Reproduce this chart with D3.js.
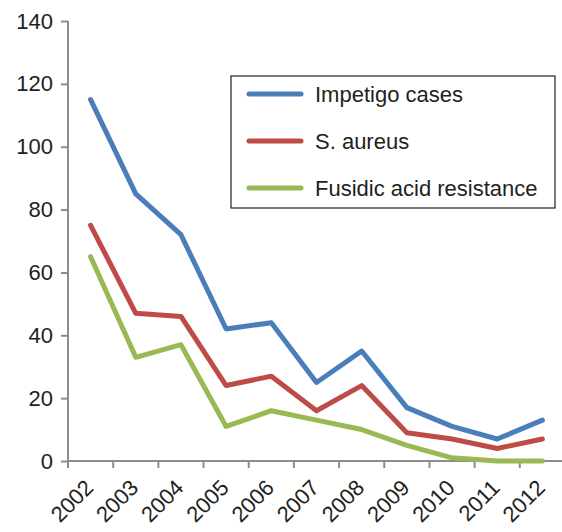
<!DOCTYPE html>
<html>
<head>
<meta charset="utf-8">
<script src="https://cdn.jsdelivr.net/npm/d3@7"></script>
<style>
  body { margin: 0; background: #fff; }
  text { font-family: "Liberation Sans", Arial, sans-serif; fill: #231f20; }
</style>
</head>
<body>
<div id="chart"></div>
<script>
// data
const years = ["2002","2003","2004","2005","2006","2007","2008","2009","2010","2011","2012"];
const impetigo = [115, 85, 72, 42, 44, 25, 35, 17, 11, 7, 13];
const aureus = [75, 47, 46, 24, 27, 16, 24, 9, 7, 4, 7];
const fusidic = [65, 33, 37, 11, 16, 13, 10, 5, 1, 0, 0];
const seriesNames = ["Impetigo cases", "S. aureus", "Fusidic acid resistance"];
const yTicks = [0, 20, 40, 60, 80, 100, 120, 140];

const colors = ["#4a7ebb", "#be4b48", "#98b954"];
const series = [impetigo, aureus, fusidic];

const width = 562, height = 532;
const margin = { top: 21, right: -3, bottom: 71, left: 68 };

const svg = d3.select("#chart").append("svg")
  .attr("width", width)
  .attr("height", height);

const xScale = d3.scaleBand()
  .domain(years)
  .range([margin.left, width - margin.right]);

const yScale = d3.scaleLinear()
  .domain([0, 140])
  .range([height - margin.bottom, margin.top]);

// y axis
const yAxis = svg.append("g")
  .attr("transform", "translate(" + margin.left + ",0)")
  .call(d3.axisLeft(yScale).tickValues(yTicks).tickSize(7).tickPadding(8));
yAxis.selectAll("path, line").attr("stroke", "#8c8c8c").attr("stroke-width", 2);
yAxis.select(".domain").attr("d", "M0," + yScale(140) + "V" + yScale(0));
yAxis.selectAll("text").style("font-size", "22px").attr("fill", "#231f20");

// x axis, ticks sit between categories
const xAxis = svg.append("g")
  .attr("transform", "translate(0," + yScale(0) + ")");
xAxis.append("line")
  .attr("x1", margin.left).attr("x2", width)
  .attr("stroke", "#8c8c8c").attr("stroke-width", 2);
xAxis.selectAll(".tk")
  .data(years)
  .enter().append("line")
  .attr("class", "tk")
  .attr("x1", d => xScale(d)).attr("x2", d => xScale(d))
  .attr("y1", 0).attr("y2", 7)
  .attr("stroke", "#8c8c8c").attr("stroke-width", 2);
xAxis.selectAll(".lbl")
  .data(years)
  .enter().append("text")
  .attr("class", "lbl")
  .attr("text-anchor", "end")
  .style("font-size", "22px")
  .attr("transform", d => "translate(" + (xScale(d) + xScale.bandwidth() / 2 + 4) + ",28) rotate(-45)")
  .text(d => d);

// lines
const line = d3.line()
  .x((d, i) => xScale(years[i]) + xScale.bandwidth() / 2)
  .y(d => yScale(d));

svg.selectAll(".series")
  .data(series)
  .enter().append("path")
  .attr("class", "series")
  .attr("d", line)
  .attr("fill", "none")
  .attr("stroke", (d, i) => colors[i])
  .attr("stroke-width", 5)
  .attr("stroke-linejoin", "round")
  .attr("stroke-linecap", "round");

// legend
const legend = svg.append("g");
legend.append("rect")
  .attr("x", 231).attr("y", 76)
  .attr("width", 324).attr("height", 132)
  .attr("fill", "#fff")
  .attr("stroke", "#231f20").attr("stroke-width", 1.2);

const items = legend.selectAll(".item")
  .data(seriesNames)
  .enter().append("g")
  .attr("class", "item")
  .attr("transform", (d, i) => "translate(0," + (94 + i * 47) + ")");
items.append("line")
  .attr("x1", 249).attr("x2", 301)
  .attr("stroke", (d, i) => colors[i])
  .attr("stroke-width", 5)
  .attr("stroke-linecap", "round");
items.append("text")
  .attr("x", 315).attr("y", 8)
  .style("font-size", "22px")
  .text(d => d);
</script>
</body>
</html>
